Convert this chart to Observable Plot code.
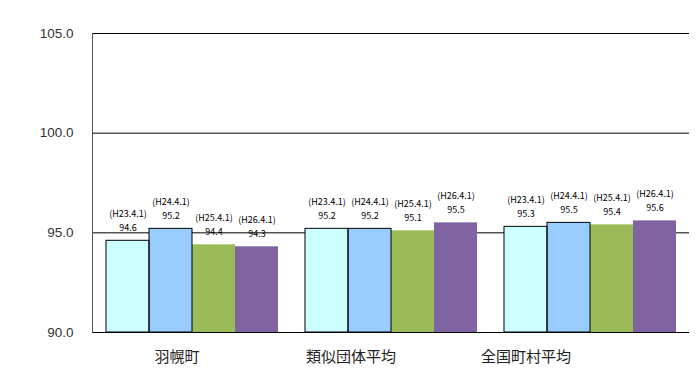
<!DOCTYPE html>
<html>
<head>
<meta charset="utf-8">
<script src="https://cdn.jsdelivr.net/npm/d3@7"></script>
<script src="https://cdn.jsdelivr.net/npm/@observablehq/plot@0.6"></script>
<style>
  html, body { margin: 0; padding: 0; background: #fff; }
</style>
</head>
<body>
<div id="chart"></div>
<script>
const groups = ["羽幌町", "類似団体平均", "全国町村平均"];
const series = ["H23.4.1", "H24.4.1", "H25.4.1", "H26.4.1"];
const haboro = [94.6, 95.2, 94.4, 94.3];
const ruiji = [95.2, 95.2, 95.1, 95.5];
const zenkoku = [95.3, 95.5, 95.4, 95.6];
const yTicks = [90, 95, 100, 105];
const gridValues = [95, 100, 105];
const colors = ["#CCFFFF", "#99CCFF", "#9BBB59", "#8064A2"];
const outlined = ["H23.4.1", "H24.4.1"];
const labelShift = [-15, -40, -64];

const valuesByGroup = [haboro, ruiji, zenkoku];
const data = groups.flatMap((g, gi) =>
  series.map((s, si) => ({group: g, series: s, value: valuesByGroup[gi][si]}))
);

const chart = Plot.plot({
  width: 697,
  height: 381,
  marginLeft: 91,
  marginRight: 7,
  marginTop: 33,
  marginBottom: 49,
  style: {fontFamily: "'Noto Sans CJK JP', 'DejaVu Sans', sans-serif", background: "#fff", color: "#000"},
  fx: {domain: groups, padding: 0, label: null, axis: null},
  x: {domain: series, paddingInner: 0, paddingOuter: 0.3, axis: null},
  y: {domain: [90, 105], axis: null},
  color: {domain: series, range: colors},
  marks: [
    Plot.ruleY(gridValues, {stroke: "#000", strokeWidth: 1}),
    Plot.barY(data, {fx: "group", x: "series", y1: 90, y2: "value", fill: "series"}),
    Plot.barY(data.filter(d => outlined.includes(d.series)), {fx: "group", x: "series", y1: 90, y2: "value", fill: "none", stroke: "#000", strokeWidth: 1}),
    Plot.ruleY([90], {stroke: "#000", strokeWidth: 1.2}),
    Plot.frame({anchor: "left", facetAnchor: "left", stroke: "#555"}),
    Plot.text(data, {fx: "group", x: "series", y: "value", text: d => d.value.toFixed(1), dy: -12.5, fontSize: 9, fill: "#000"}),
    Plot.text(data, {fx: "group", x: "series", y: "value", text: d => "(" + d.series + ")", dy: -27, fontSize: 9, fill: "#000"}),
    Plot.axisY({ticks: yTicks, tickFormat: d => d.toFixed(1), tickSize: 0, tickPadding: 19, fontSize: 13.5, fill: "#333", label: null, fontFamily: "'Liberation Sans', 'DejaVu Sans', sans-serif"}),
    ...groups.map((g, i) =>
      Plot.axisFx({anchor: "bottom", ticks: [g], tickSize: 0, tickPadding: 19, fontSize: 15, dx: labelShift[i], label: null, fill: "#222"})
    )
  ]
});
document.getElementById("chart").appendChild(chart);
</script>
</body>
</html>
